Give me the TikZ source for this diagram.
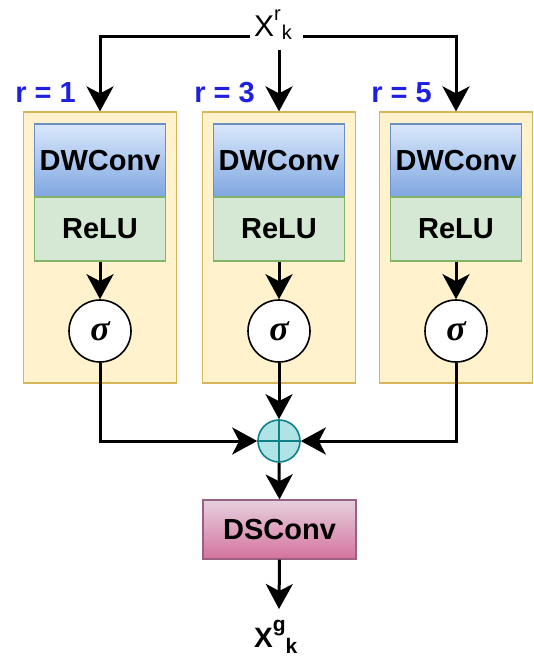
\documentclass[tikz,border=0pt]{standalone}
\usepackage{fontspec}
\setmainfont{Liberation Sans}
\newfontfamily\sigmafont{Liberation Serif}
\usetikzlibrary{arrows.meta}

\definecolor{panelfill}{HTML}{FFF2CC}
\definecolor{panelline}{HTML}{D6B656}
\definecolor{dwtop}{HTML}{DAE8FC}
\definecolor{dwbot}{HTML}{7EA6E0}
\definecolor{dwline}{HTML}{6C8EBF}
\definecolor{relufill}{HTML}{D5E8D4}
\definecolor{reluline}{HTML}{82B366}
\definecolor{plusfill}{HTML}{B0E3E6}
\definecolor{plusline}{HTML}{0E8088}
\definecolor{dstop}{HTML}{E6D0DE}
\definecolor{dsbot}{HTML}{D5739D}
\definecolor{dsline}{HTML}{996185}
\definecolor{ratecol}{HTML}{1F1FE0}

\begin{document}
\begin{tikzpicture}[x=1pt,y=-1pt,
  panel/.style={draw=panelline, fill=panelfill, line width=1.2pt,
    minimum width=153pt, minimum height=271pt, inner sep=0pt},
  dwbox/.style={draw=dwline, top color=dwtop, bottom color=dwbot, line width=1.2pt,
    minimum width=131pt, minimum height=73pt, inner sep=0pt,
    font=\fontsize{29}{32}\selectfont\bfseries},
  relubox/.style={draw=reluline, fill=relufill, line width=1.2pt,
    minimum width=131pt, minimum height=64pt, inner sep=0pt,
    font=\fontsize{29}{32}\selectfont\bfseries},
  sigbox/.style={circle, draw=black, fill=white, line width=1.6pt,
    minimum size=62pt, inner sep=0pt,
    font=\sigmafont\fontsize{36}{36}\selectfont\bfseries\itshape},
  sumnode/.style={circle, draw=plusline, fill=plusfill, line width=1.6pt,
    minimum size=42pt, inner sep=0pt},
  dsbox/.style={draw=dsline, top color=dstop, bottom color=dsbot, line width=1.2pt,
    minimum width=153pt, minimum height=59pt, inner sep=0pt,
    font=\fontsize{29}{32}\selectfont\bfseries},
  rate/.style={anchor=base east, inner sep=0pt, text=ratecol,
    font=\fontsize{29}{32}\selectfont\bfseries},
  flow/.style={line width=3pt, line join=miter,
    -{Stealth[length=25pt,width=27pt,inset=7pt]}}
]
\useasboundingbox (0,0) rectangle (533,660);

% three dilated branches
\foreach \i/\cx/\r in {1/100/1, 2/279/3, 3/456/5}{
  \node[panel] (p\i) at (\cx,247.5) {};
  \node[dwbox] (dw\i) at (\cx,160.5) {DWConv};
  \node[relubox] (re\i) at (\cx,229) {ReLU};
  \node[sigbox] (s\i) at (\cx,331) {σ};
  \node[rate] (r\i) at (\cx-24,103) {r = \r};
  \draw[flow] (re\i.south) -- (s\i.north);
}

% input feature
\node[anchor=base west, inner sep=0pt] (xr) at (254,37)
  {\fontsize{30}{30}\selectfont X\fontsize{20}{20}\selectfont\raisebox{16pt}{r}\kern1pt\raisebox{-3pt}{k}};
\coordinate (xrL) at (250,37);
\coordinate (xrR) at (303,37);
\coordinate (xrB) at (279,50);
\draw[flow] (xrL) -| (p1.north);
\draw[flow] (xrR) -| (p3.north);
\draw[flow] (xrB) -- (p2.north);

% fusion
\node[sumnode] (sum) at (279,441) {};
\draw[plusline, line width=1.6pt] (sum.north) -- (sum.south) (sum.west) -- (sum.east);
\draw[flow] (s1.south) |- (sum.west);
\draw[flow] (s3.south) |- (sum.east);
\draw[flow] (s2.south) -- (sum.north);

% output block
\node[dsbox] (ds) at (279.5,529.5) {DSConv};
\draw[flow] (sum.south) -- (ds.north);

\node[anchor=base west, inner sep=0pt] (xg) at (254,647)
  {\bfseries\fontsize{28}{28}\selectfont X\fontsize{21}{21}\selectfont\raisebox{16pt}{g}\raisebox{-6pt}{k}};
\coordinate (xgT) at (279,609);
\draw[flow] (ds.south) -- (xgT);
\end{tikzpicture}
\end{document}
